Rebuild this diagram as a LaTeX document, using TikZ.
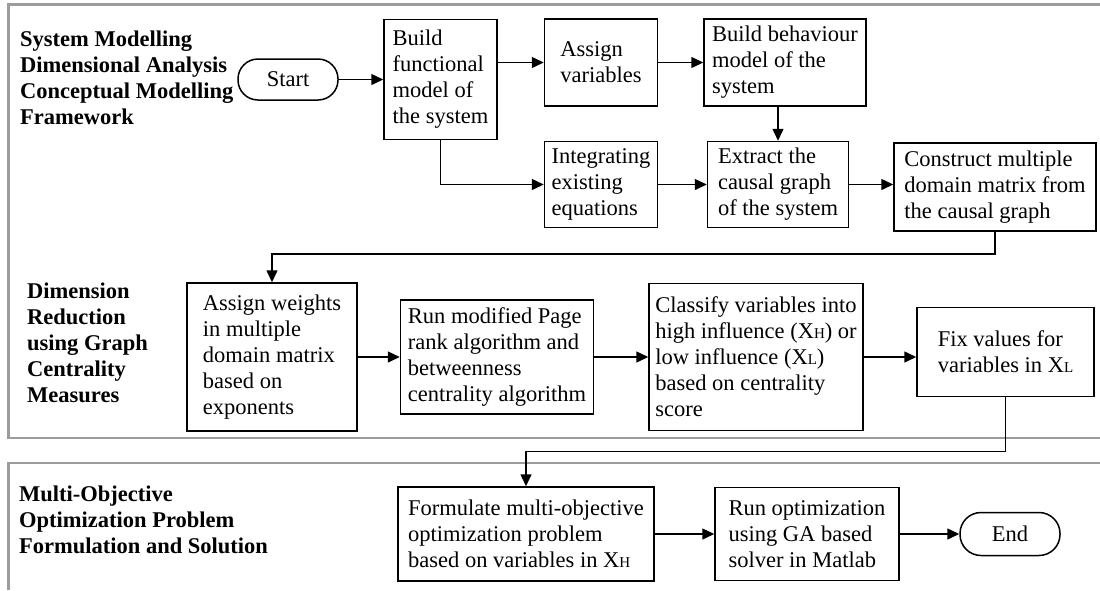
\documentclass[tikz,border=0pt]{standalone}
\usepackage{fontspec}
\setmainfont{Liberation Serif}
\usetikzlibrary{positioning,arrows.meta}
\definecolor{panel}{HTML}{9C9C9C}
\tikzset{
  stepbox/.style={rectangle,draw=black,line width=1.5pt,align=left,inner sep=4pt},
  term/.style={rectangle,rounded corners=20pt,draw=black,line width=1.5pt,align=center,inner sep=4pt},
  sz/.style 2 args={minimum width=#1pt,minimum height=#2pt},
  ar/.style={-{Triangle[length=12pt,width=11pt]},line width=1.5pt},
  phase/.style={font=\bfseries\fontsize{22.5pt}{26pt}\selectfont,align=left,anchor=west,inner sep=0pt},
  frame/.style={draw=panel,line width=2.6pt},
}
\newcommand{\xsub}[1]{X{\fontsize{15pt}{15pt}\selectfont #1}}

\begin{document}
\begin{tikzpicture}[x=1pt,y=-1pt,font=\fontsize{22.5pt}{26pt}\selectfont]
  \useasboundingbox (0,0) rectangle (1100,590);
  % phase frames
  \draw[frame] (1100,4.5) -- (8.6,4.5) -- (8.6,438) -- (1100,438);
  \draw[frame] (1100,463) -- (8.6,463) -- (8.6,590);
  \node[phase] (lab1) at (20,78) {System Modelling\\Dimensional Analysis\\Conceptual Modelling\\Framework};
  \node[phase] (lab2) at (27,343) {Dimension\\Reduction\\using Graph\\Centrality\\Measures};
  \node[phase] (lab3) at (19,520) {Multi-Objective\\Optimization Problem\\Formulation and Solution};
  % system modelling
  \node[term,sz={100}{41}] (start) at (288,79.5) {Start};
  \node[stepbox,sz={113}{120},right=44.5pt of start] (build) {Build\\functional\\model of\\the system};
  \node[stepbox,sz={113}{87},right=46pt of build,yshift=17pt] (assign) {Assign\\variables};
  \node[stepbox,sz={162}{87},right=45pt of assign] (behav) {Build behaviour\\model of the\\system};
  \node[stepbox,sz={113}{86},below=34pt of assign] (integ) {Integrating\\existing\\equations};
  \node[stepbox,sz={141}{86},right=48.5pt of integ] (extract) {Extract the\\causal graph\\of the system};
  \node[stepbox,sz={202}{88},right=44pt of extract,yshift=-2.5pt] (mdm) {Construct multiple\\domain matrix from\\the causal graph};
  % dimension reduction
  \node[stepbox,sz={170}{148}] (weights) at (272,357) {Assign weights\\in multiple\\domain matrix\\based on\\exponents};
  \node[stepbox,sz={193}{114},right=42pt of weights] (rank) {Run modified Page\\rank algorithm and\\betweenness\\centrality algorithm};
  \node[stepbox,sz={214}{147},right=54pt of rank] (classify) {Classify variables into\\high influence (\xsub{H}) or\\low influence (\xsub{L})\\based on centrality\\score};
  \node[stepbox,sz={177}{89},right=52.5pt of classify,yshift=5pt] (fix) {Fix values for\\variables in \xsub{L}};
  % optimization
  \node[stepbox,sz={256}{94}] (formul) at (526,534) {Formulate multi-objective\\optimization problem\\based on variables in \xsub{H}};
  \node[stepbox,sz={184}{93},right=59.5pt of formul] (runopt) {Run optimization\\using GA based\\solver in Matlab};
  \node[term,sz={100}{43},rounded corners=21pt,right=59.5pt of runopt] (stop) {End};
  % connectors
  \draw[ar] (start) -- (build);
  \draw[ar] (build.east |- assign) -- (assign);
  \foreach \a/\b in {assign/behav,integ/extract,extract/mdm,weights/rank,rank/classify,classify/fix,formul/runopt,runopt/stop}
    \draw[ar] (\a.east) -- (\a.east -| \b.west);
  \draw[ar] (build.south) |- (integ.west);
  \draw[ar] (behav.south -| extract) -- (extract.north);
  \draw[ar] (mdm.south) -- ++(0,22) -| (weights.north);
  \draw[ar] (fix.south) -- ++(0,54) -| (formul.north);
\end{tikzpicture}
\end{document}
